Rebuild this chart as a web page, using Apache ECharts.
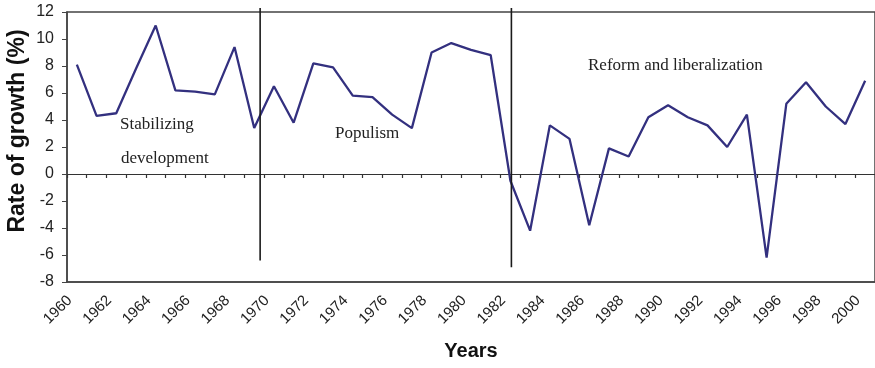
<!DOCTYPE html>
<html>
<head>
<meta charset="utf-8">
<script src="https://cdn.jsdelivr.net/npm/echarts@6/dist/echarts.min.js"></script>
<style>
html,body{margin:0;padding:0;background:#fff;}
#chart{width:875px;height:368px;}
</style>
</head>
<body>
<div id="chart"></div>
<script>
var years = ['1960','1961','1962','1963','1964','1965','1966','1967','1968','1969',
             '1970','1971','1972','1973','1974','1975','1976','1977','1978','1979',
             '1980','1981','1982','1983','1984','1985','1986','1987','1988','1989',
             '1990','1991','1992','1993','1994','1995','1996','1997','1998','1999','2000'];
var growth = [8.1, 4.3, 4.5, 7.8, 11.0, 6.2, 6.1, 5.9, 9.4, 3.4,
              6.5, 3.8, 8.2, 7.9, 5.8, 5.7, 4.4, 3.4, 9.0, 9.7,
              9.2, 8.8, -0.5, -4.2, 3.6, 2.6, -3.8, 1.9, 1.3, 4.2,
              5.1, 4.2, 3.6, 2.0, 4.4, -6.2, 5.2, 6.8, 5.0, 3.7, 6.9];
var yTicks = {min: -8, max: 12, step: 2};
var periodDividers = [
  [[1969.3, 12.3], [1969.3, -6.4]],
  [[1982.05, 12.3], [1982.05, -6.9]]
];
var periodLabels = ['Stabilizing', 'development', 'Populism', 'Reform and liberalization'];
var yTitle = 'Rate of growth (%)';
var xTitle = 'Years';

var chart = echarts.init(document.getElementById('chart'), null, {renderer: 'canvas'});
var serifFont = '17px "Liberation Serif", "Times New Roman", serif';
var option = {
  animation: false,
  backgroundColor: '#ffffff',
  grid: {left: 67, top: 12, right: -4, bottom: 86, show: true, borderColor: '#444', borderWidth: 1.5, backgroundColor: 'transparent'},
  xAxis: [
    {
      type: 'category', data: years, position: 'bottom', boundaryGap: true,
      axisLine: {onZero: false, lineStyle: {color: '#444', width: 1.5}},
      axisTick: {show: false},
      axisLabel: {interval: 1, rotate: 45, fontSize: 15, color: '#222', fontFamily: '"Liberation Sans", Arial, sans-serif', margin: 9, padding: [0, 10, 0, 0]},
      splitLine: {show: false}
    },
    {
      type: 'category', data: years, position: 'bottom', boundaryGap: true,
      axisLine: {onZero: true, lineStyle: {color: '#333', width: 1.2}},
      axisTick: {show: true, interval: 0, length: 4, lineStyle: {color: '#333', width: 1.2}},
      axisLabel: {show: false},
      splitLine: {show: false}
    },
    {
      type: 'value', min: 1959.5, max: 2000.5, show: false
    }
  ],
  yAxis: {
    type: 'value', min: yTicks.min, max: yTicks.max, interval: yTicks.step,
    axisLine: {show: true, onZero: false, lineStyle: {color: '#444', width: 1.5}},
    axisTick: {show: true, length: 5, lineStyle: {color: '#444'}},
    axisLabel: {fontSize: 16, color: '#222', fontFamily: '"Liberation Sans", Arial, sans-serif', margin: 13},
    splitLine: {show: false}
  },
  series: [
    {
      type: 'line', xAxisIndex: 0, yAxisIndex: 0, data: growth,
      symbol: 'none', smooth: false,
      lineStyle: {color: '#33307f', width: 2.3},
      z: 3
    },
    {
      type: 'line', xAxisIndex: 2, yAxisIndex: 0, data: periodDividers[0],
      symbol: 'none', clip: false,
      lineStyle: {color: '#1a1a1a', width: 1.6}, z: 4
    },
    {
      type: 'line', xAxisIndex: 2, yAxisIndex: 0, data: periodDividers[1],
      symbol: 'none', clip: false,
      lineStyle: {color: '#1a1a1a', width: 1.6}, z: 4
    }
  ],
  graphic: [
    {type: 'text', left: 120, top: 116, style: {text: periodLabels[0], font: serifFont, fill: '#222'}},
    {type: 'text', left: 121, top: 150, style: {text: periodLabels[1], font: serifFont, fill: '#222'}},
    {type: 'text', left: 335, top: 125, style: {text: periodLabels[2], font: serifFont, fill: '#222'}},
    {type: 'text', left: 588, top: 57, style: {text: periodLabels[3], font: serifFont, fill: '#222'}},
    {type: 'text', x: 18, y: 131, rotation: Math.PI / 2,
     style: {text: yTitle, font: 'bold 23px "Liberation Sans", Arial, sans-serif', fill: '#111', textAlign: 'center', textVerticalAlign: 'middle'}},
    {type: 'text', x: 471, y: 351,
     style: {text: xTitle, font: 'bold 20px "Liberation Sans", Arial, sans-serif', fill: '#111', textAlign: 'center', textVerticalAlign: 'middle'}}
  ]
};
chart.setOption(option);
</script>
</body>
</html>
